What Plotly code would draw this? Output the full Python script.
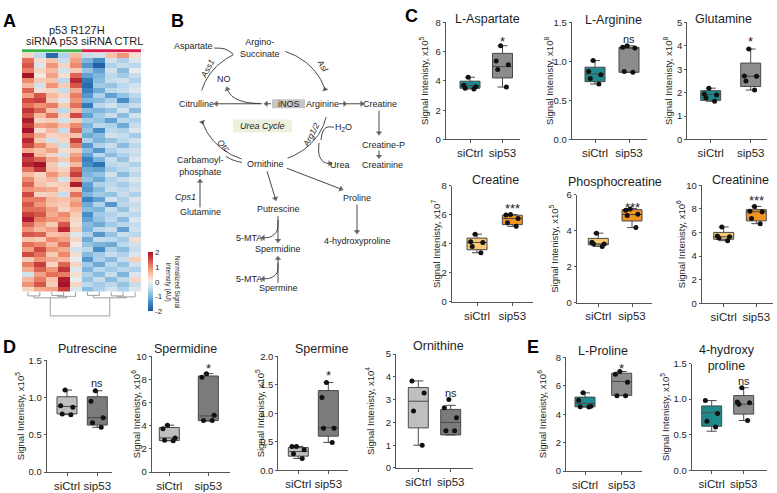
import numpy as np
import plotly.graph_objects as go

W, H = 777, 493
FONT = "Liberation Sans, Arial, Helvetica, sans-serif"
TXT = "#1e1e1e"
AXC = "#555555"
DC = "#333333"

# ---------------- Panel A: heatmap data ----------------
heat_groups = ["siRNA p53", "siRNA CTRL"]
heat_z = [
    [0.3, -0.5, -1.8, -0.6, 0.6, -0.4, -0.3, 0.5, 0.9, 0.2],
    [1.2, 0.2, 0.5, -0.4, 0.8, -1.0, -1.4, -0.3, -0.6, -0.2],
    [1.4, -0.2, 0.9, 0.3, 1.0, -1.3, -1.9, -0.6, -0.4, -0.5],
    [1.1, 0.3, 0.6, -0.3, 0.4, -0.8, -1.2, -0.3, -0.9, -0.1],
    [2.0, 0.1, 0.8, 0.2, 1.3, -1.2, -1.0, -0.5, -0.7, -0.4],
    [1.0, 0.4, 0.5, -0.5, 1.8, -1.6, -0.9, -0.4, -0.3, -0.6],
    [0.6, -0.3, 0.9, 0.4, 1.4, -1.8, -0.7, -0.8, -0.5, -0.3],
    [1.3, 0.2, 0.3, -0.4, 0.7, -1.5, -1.1, -0.5, -0.4, -0.2],
    [0.8, 1.4, 0.6, 0.3, 1.1, -1.3, -0.6, -1.2, -0.8, -0.5],
    [1.5, 1.6, 0.4, -0.2, 0.9, -1.0, -0.9, -0.6, -1.4, -0.7],
    [1.2, 0.9, 1.1, 0.4, 1.2, -1.6, -0.5, -0.3, -0.6, -0.4],
    [1.7, 1.3, 0.5, -0.5, 0.6, -0.9, -1.0, -0.8, -0.3, -0.9],
    [1.4, 0.6, 1.2, 0.3, 1.5, -1.2, -0.7, -0.4, -0.9, -0.3],
    [1.9, 0.3, 0.4, -0.3, 0.4, -0.7, -0.8, -1.2, -0.5, -0.6],
    [1.6, 0.8, 0.9, 0.5, 1.0, -1.0, -0.5, -0.6, -1.1, -0.4],
    [2.0, 0.2, 0.6, -0.4, 1.3, -0.8, -1.4, -0.5, -0.6, -0.2],
    [1.3, 0.7, 0.3, 0.4, 0.5, -1.1, -0.9, -0.3, -0.4, -0.7],
    [1.8, 0.4, -0.3, 0.3, 1.6, -0.6, -1.0, -0.8, -0.5, -0.3],
    [1.5, 1.0, 0.5, -0.4, 1.1, -1.3, -0.6, -0.4, -0.9, -0.5],
    [0.7, 0.5, 0.8, 0.2, 0.4, -0.9, -1.3, -0.6, -0.4, -0.3],
    [1.9, 0.6, 0.3, -0.3, 0.8, -1.2, -0.5, -0.9, -0.6, -0.4],
    [1.6, 1.3, 0.7, 0.4, 1.0, -1.5, -1.0, -0.4, -0.8, -0.2],
    [1.8, 2.1, 0.4, -0.2, 0.6, -1.4, -1.7, -0.5, -0.4, -0.6],
    [1.2, 1.7, 0.5, 0.3, 1.3, -1.1, -1.2, -0.7, -0.5, -0.3],
    [0.6, 0.3, 0.9, 0.5, 1.6, -1.0, -0.8, -0.3, -0.9, -0.5],
    [1.0, 0.4, 0.6, -0.3, 0.9, -0.8, -1.1, -0.6, -0.4, -0.2],
    [1.3, 0.5, 0.3, 0.4, 1.9, -1.2, -0.6, -0.5, -0.7, -0.4],
    [0.9, 0.8, 0.7, 0.3, 0.5, -1.3, -0.9, -0.4, -0.5, -0.3],
    [1.5, 0.3, 0.4, -0.4, 1.2, -1.0, -0.7, -0.8, -0.4, -0.6],
    [1.1, 1.1, 0.6, 0.5, 0.7, -1.5, -1.2, -0.3, -0.6, -0.2],
    [1.4, 0.9, 0.5, 0.4, 0.9, -1.1, -0.6, -1.3, -0.5, -0.4],
    [1.2, 1.2, 0.8, 0.3, 0.6, -0.9, -1.0, -0.4, -0.8, -0.3],
    [1.6, 1.4, 0.7, 1.0, 0.4, -1.4, -0.7, -0.6, -0.4, -0.5],
    [1.9, 1.1, 0.9, 0.8, 0.3, -1.2, -0.8, -0.5, -0.9, -0.2],
    [1.3, 0.8, 0.4, 1.4, 0.2, -0.9, -1.1, -0.7, -0.5, -0.4],
    [0.9, 0.6, 0.8, 1.8, 0.4, -1.0, -0.5, -0.4, -1.2, -0.3],
    [1.4, 1.3, 0.5, 0.6, -0.2, -0.6, -1.3, -0.8, -0.4, -0.5],
    [0.5, 0.4, 1.0, 0.8, 0.3, -1.1, -0.4, -0.5, -0.7, 0.2],
    [1.2, 1.0, 0.6, 1.2, 0.1, -0.8, -1.0, -1.1, -0.5, -0.3],
    [0.8, 1.5, 0.9, 0.7, -0.3, -0.5, -1.4, -0.6, -0.9, -0.4],
    [1.5, 1.2, 0.4, 1.0, 0.2, -0.9, -0.7, -0.4, -0.6, -0.2],
    [0.4, 0.9, 0.7, 0.6, -0.1, -1.3, -0.6, -0.9, -0.4, 0.4],
    [1.1, 1.6, 0.3, 1.3, 0.3, -0.7, -1.1, -0.5, -0.8, -0.3],
    [0.7, 1.3, 0.9, 1.7, -0.2, -1.0, -0.5, -0.7, -0.5, -0.6],
    [-0.3, 0.8, 1.2, 1.1, 0.2, -0.6, -0.9, -0.4, -1.0, -0.2],
    [0.6, 1.1, 0.5, 1.9, -0.1, -0.8, -0.4, -0.9, -0.5, 0.3],
    [0.9, 1.4, 0.4, 2.0, 0.3, -0.5, -0.7, -0.5, -0.8, -0.4],
    [0.3, 0.7, 0.8, 1.6, -0.2, -0.9, -0.6, -0.3, -0.6, -0.2],
]
colorbar_ticks = [2, 1, 0, -1, -2]

# ---------------- Panels C, D, E: box plot data ----------------
groups = ["siCtrl", "sip53"]
metabolites = ["L-Aspartate", "L-Arginine", "Glutamine", "Creatine", "Phosphocreatine",
               "Creatinine", "Putrescine", "Spermidine", "Spermine", "Ornithine",
               "L-Proline", "4-hydroxy<br>proline"]
exponents = [5, 8, 8, 7, 5, 6, 5, 6, 5, 4, 6, 5]
y_max = [8, 1.5, 5, 8, 6, 10, 1.5, 10, 2.0, 5, 8, 1.5]
y_step = [2, 0.5, 1, 2, 2, 2, 0.5, 2, 0.5, 1, 2, 0.5]
ctrl_points = [
    [4.25, 3.70, 3.60, 3.50, 3.45],
    [1.01, 0.87, 0.83, 0.78, 0.71],
    [2.19, 1.94, 1.90, 1.78, 1.63],
    [4.67, 4.15, 4.10, 3.82, 3.39],
    [3.87, 3.36, 3.27, 3.26, 3.13],
    [6.46, 5.70, 5.63, 5.52, 5.30],
    [1.10, 0.89, 0.87, 0.78, 0.77],
    [4.05, 3.75, 2.95, 2.75, 2.70],
    [0.42, 0.42, 0.36, 0.29, 0.21],
    [3.82, 3.29, 2.50, 1.00],
    [5.50, 4.98, 4.55, 4.52, 4.50],
    [0.98, 0.80, 0.69, 0.61],
]
sip53_points = [
    [6.40, 5.36, 5.10, 4.78, 3.58],
    [1.20, 1.18, 1.17, 0.87, 0.86],
    [3.86, 2.71, 2.70, 2.50, 2.11],
    [6.02, 6.00, 5.75, 5.46, 5.21],
    [5.22, 5.15, 4.92, 4.86, 4.18],
    [8.20, 7.80, 7.75, 7.18, 6.74],
    [1.09, 0.95, 0.73, 0.66, 0.60],
    [8.50, 8.20, 4.90, 4.45, 4.45],
    [1.54, 1.28, 0.74, 0.74, 0.49],
    [3.00, 2.64, 2.20, 1.63, 1.63],
    [7.00, 6.80, 6.24, 5.30, 5.30],
    [1.16, 0.96, 0.95, 0.93, 0.70],
]
# q1, median, q3, lower whisker, upper whisker
ctrl_box = [
    [3.50, 3.68, 3.98, 3.45, 4.25],
    [0.74, 0.84, 0.925, 0.71, 1.01],
    [1.67, 1.92, 2.08, 1.63, 2.19],
    [3.60, 4.10, 4.40, 3.39, 4.67],
    [3.22, 3.27, 3.58, 3.13, 3.87],
    [5.42, 5.63, 6.00, 5.30, 6.46],
    [0.78, 0.88, 1.01, 0.77, 1.10],
    [2.72, 2.95, 3.85, 2.70, 4.05],
    [0.25, 0.33, 0.40, 0.21, 0.42],
    [1.76, 2.93, 3.53, 1.00, 3.82],
    [4.52, 4.75, 5.20, 4.50, 5.50],
    [0.62, 0.81, 0.905, 0.55, 0.98],
]
sip53_box = [
    [4.20, 4.98, 5.88, 3.58, 6.40],
    [0.86, 1.17, 1.18, 0.86, 1.20],
    [2.26, 2.70, 3.26, 2.11, 3.86],
    [5.33, 5.75, 5.98, 5.21, 6.02],
    [4.55, 4.91, 5.18, 4.18, 5.25],
    [6.98, 7.75, 7.93, 6.74, 8.20],
    [0.63, 0.73, 1.01, 0.60, 1.09],
    [4.45, 4.85, 8.30, 4.40, 8.50],
    [0.60, 0.75, 1.40, 0.49, 1.54],
    [1.45, 2.00, 2.57, 1.45, 2.75],
    [5.32, 6.30, 6.88, 5.30, 7.00],
    [0.79, 0.93, 1.05, 0.70, 1.16],
]
sig_text = ["*", "ns", "*", "***", "***", "***", "ns", "*", "*", "ns", "*", "ns"]
sig_y = [6.94, 1.29, 4.31, 6.70, 5.51, 9.03, 1.20, 9.24, 1.73, 3.31, 7.45, 1.26]

# ---------------- layout of the panels (pixels) ----------------
p_left = [445.7, 571.7, 687.3, 451.7, 576.7, 701.7, 46.7, 151.7, 278.3, 396.0, 566.0, 691.7]
p_c0 = [470.0, 595.0, 710.7, 477.0, 598.3, 723.7, 67.0, 169.3, 298.3, 418.3, 585.0, 711.7]
p_c1 = [502.5, 629.0, 750.7, 512.3, 632.0, 756.3, 97.3, 208.3, 328.3, 450.7, 621.7, 743.7]
p_right = [520.0, 646.7, 766.7, 533.0, 651.7, 773.0, 111.7, 230.0, 348.3, 473.3, 641.7, 766.7]
p_top = [16.7, 16.7, 16.7, 184.0, 193.3, 183.3, 362.3, 358.3, 358.3, 356.0, 359.3, 365.7]
p_bottom = [136.5, 136.5, 136.5, 302.7, 303.3, 304.0, 476.7, 476.7, 475.0, 472.5, 475.7, 475.0]
t_x = [487, 613, 723, 495, 615, 740, 87, 185, 322, 438, 603, 727]
t_y = [13, 14, 13, 178, 180, 178, 351, 351, 351, 348, 353, 360]
yt_x = [424, 549, 668, 436, 554, 681, 20, 136, 260, 370, 542, 665]

TEAL, GRAY = "#1f8a8c", "#8c8c8c"
LORANGE, ORANGE = "#f8c873", "#f39420"
LGRAY, DGRAY = "#bfbfbf", "#7b7b7b"
ctrl_fill = [TEAL] * 3 + [LORANGE] * 3 + [LGRAY] * 4 + [TEAL] * 2
sip_fill = [GRAY] * 3 + [ORANGE] * 3 + [DGRAY] * 4 + [GRAY] * 2

fig = go.Figure()
annotations = []
shapes = []
layout_axes = {}


def canvas_line(pts, spline=False, color=DC, width=0.9, head=False):
    xs = [p[0] for p in pts]
    ys = [p[1] for p in pts]
    marker = None
    mode = "lines"
    if head:
        # pull the last point back so the triangle tip lands on the target
        ux, uy = xs[-1] - xs[-2], ys[-1] - ys[-2]
        d = max((ux ** 2 + uy ** 2) ** 0.5, 1e-6)
        xs[-1] -= 2.2 * ux / d
        ys[-1] -= 2.2 * uy / d
        mode = "lines+markers"
        marker = dict(symbol="triangle-up", size=[0] * (len(xs) - 1) + [5.5],
                      angleref="previous", color=color, line=dict(width=0))
    fig.add_trace(go.Scatter(
        x=xs, y=ys, mode=mode, marker=marker,
        line=dict(color=color, width=width, shape="spline" if spline else "linear"),
        hoverinfo="skip", showlegend=False, xaxis="x", yaxis="y"))


def arrow(tail, head, color=DC):
    canvas_line([tail, head], color=color, head=True)


def label(text, x, y, size=9, angle=0, color=TXT, xanchor="center", yanchor="middle", yshift=0):
    annotations.append(dict(
        x=x, y=y, xref="x", yref="y", text=text, showarrow=False, textangle=angle,
        font=dict(family=FONT, size=size, color=color), xanchor=xanchor,
        yanchor=yanchor, yshift=yshift))


# ---------------- panel letters ----------------
for letter, lx, ly in [("A", 9, 15.5), ("B", 177, 15), ("C", 411, 10), ("D", 9, 348.5), ("E", 533, 348.5)]:
    label("<b>%s</b>" % letter, lx, ly, size=18, color="#000")

# ---------------- Panel A ----------------
fig.add_trace(go.Heatmap(
    z=heat_z, xaxis="x2", yaxis="y2", zmin=-2, zmax=2,
    colorscale=[[0, "#1d5a9e"], [0.125, "#3a83c0"], [0.25, "#7db5dc"], [0.375, "#bcd8ec"],
                [0.5, "#f3efed"], [0.625, "#f8c3aa"], [0.75, "#ee8a6c"], [0.875, "#cf4a42"],
                [1, "#a5122a"]],
    colorbar=dict(x=148 / W, xanchor="left", y=1 - 282 / H, yanchor="middle", len=60 / H,
                  thickness=5, xpad=0, ypad=0, outlinewidth=0, tickvals=colorbar_ticks,
                  ticktext=[str(t) for t in colorbar_ticks], ticks="",
                  tickfont=dict(family=FONT, size=8, color=TXT)),
    hoverinfo="skip"))
layout_axes["xaxis2"] = dict(domain=[22 / W, 141 / W], range=[-0.5, 9.5], visible=False, fixedrange=True)
layout_axes["yaxis2"] = dict(domain=[1 - 292 / H, 1 - 48 / H], range=[len(heat_z) - 0.5, -0.5],
                             visible=False, fixedrange=True)
label("p53 R127H", 77, 25, size=11)
label(heat_groups[0], 52, 36, size=11)
label(heat_groups[1], 112, 36, size=11)
shapes.append(dict(type="rect", xref="x", yref="y", x0=22, x1=82, y0=44.3, y1=47.3,
                   fillcolor="#3cb44b", line=dict(width=0)))
shapes.append(dict(type="rect", xref="x", yref="y", x0=82, x1=141, y0=44.3, y1=47.3,
                   fillcolor="#d81e4a", line=dict(width=0)))
label("Normalized Signal<br>Intensity (AU)", 173, 282, size=6.5, angle=90)

# dendrogram (column clustering)
col_w = (141 - 22) / 10
leaf_x = [22 + col_w * (i + 0.5) for i in range(10)]
nodes = {i: (leaf_x[i], 292.5) for i in range(10)}
merges = [("a", 0, 1, 296.5), ("b", 2, 3, 296.0), ("c", "b", 4, 297.0), ("L", "a", "c", 298.5),
          ("d", 5, 6, 296.0), ("e", 7, 8, 296.5), ("f", "e", 9, 297.5), ("R", "d", "f", 298.5),
          ("root", "L", "R", 317.0)]
dx, dy = [], []
for name, p, q, h in merges:
    (px_, py_), (qx_, qy_) = nodes[p], nodes[q]
    dx += [px_, px_, qx_, qx_, None]
    dy += [py_, h, h, qy_, None]
    nodes[name] = ((px_ + qx_) / 2, h)
fig.add_trace(go.Scatter(x=dx, y=dy, mode="lines", line=dict(color="#888", width=0.8),
                         hoverinfo="skip", showlegend=False, xaxis="x", yaxis="y"))

# ---------------- Panel B: pathway diagram ----------------
cx, cy, rx, ry = 263.5, 101.5, 64.0, 58.5


def arc(t0, t1, n=40):
    t = np.radians(np.linspace(t0, t1, n))
    return list(zip(cx + rx * np.cos(t), cy - ry * np.sin(t)))


for t0, t1, head in [(70, 14, True), (-12, -68, False), (-110, -165, True), (165, 118, False)]:
    canvas_line(arc(t0, t1), head=head)

shapes.append(dict(type="rect", xref="x", yref="y", x0=272, x1=305, y0=95.5, y1=104.5,
                   fillcolor="#c6c6c6", line=dict(width=0), layer="below"))
shapes.append(dict(type="rect", xref="x", yref="y", x0=233, x1=292, y0=116, y1=129.5,
                   fillcolor="#ebf1dd", line=dict(width=0), layer="below"))

canvas_line([(214, 43), (225, 44), (233, 49)], spline=True)
canvas_line([(226, 154), (234, 158), (242, 160)], spline=True)
canvas_line([(321, 137), (323, 128), (327, 124), (334, 124)], spline=True)
canvas_line([(262, 100), (244, 98), (233, 93), (228, 87), (226.5, 83)], spline=True, head=True)
canvas_line([(319, 140), (319, 152), (323, 159), (328, 161), (332, 161)], spline=True, head=True)
canvas_line([(278, 219), (277, 230), (271, 236), (265, 237), (261, 237)], spline=True, head=True)
canvas_line([(278, 263), (277, 273), (271, 278), (265, 279), (261, 279)], spline=True, head=True)

for tail, head in [((260, 100), (214, 100)), ((271, 100), (264, 100)),
                   ((339, 100), (347, 100)), ((347, 100), (364, 100)),
                   ((379, 107), (379, 132)), ((379, 148), (379, 156)),
                   ((200, 206), (200, 177)), ((267, 169), (276, 199)),
                   ((287, 166), (343, 188)), ((357, 203), (357, 233)),
                   ((278, 215), (278, 242)), ((278, 283), (278, 256))]:
    arrow(tail, head)

diagram_labels = [
    ("Aspartate", 193, 41), ("Argino-<br>Succinate", 260, 43), ("NO", 224, 75),
    ("Citrulline", 196, 100), ("iNOS", 288.5, 100), ("Arginine", 322, 100),
    ("Creatine", 380, 100), ("<i>Urea Cycle</i>", 262, 122.5), ("H<sub>2</sub>O", 343, 124),
    ("Creatine-P", 383, 142), ("Urea", 340, 163), ("Creatinine", 382, 163),
    ("Carbamoyl-<br>phosphate", 200, 164), ("Ornithine", 265, 162), ("<i>Cps1</i>", 185, 195),
    ("Glutamine", 200, 211), ("Putrescine", 278, 208), ("Proline", 357, 196),
    ("4-hydroxyproline", 357, 240), ("5-MTA", 249, 237), ("Spermidine", 278, 249),
    ("5-MTA", 249, 279), ("Spermine", 278, 288),
]
for text, x, y in diagram_labels:
    label(text, x, y, size=9)
for text, x, y, ang in [("<i>Ass1</i>", 207, 64, -62), ("<i>Asl</i>", 323, 61, 58),
                        ("<i>Arg1/2</i>", 311, 132, -62), ("<i>Otc</i>", 224, 143, 45)]:
    label(text, x, y, size=8.5, angle=ang)

# ---------------- Panels C, D, E: box plots ----------------
for i in range(len(metabolites)):
    n = i + 3
    xa, ya = "x%d" % n, "y%d" % n
    unit = p_c1[i] - p_c0[i]
    xmin = -(p_c0[i] - p_left[i]) / unit
    xmax = 1 + (p_right[i] - p_c1[i]) / unit
    bw = 20.0 / unit
    for g, (box, pts, fill) in enumerate([(ctrl_box[i], ctrl_points[i], ctrl_fill[i]),
                                          (sip53_box[i], sip53_points[i], sip_fill[i])]):
        fig.add_trace(go.Box(
            x=[g], q1=[box[0]], median=[box[1]], q3=[box[2]], lowerfence=[box[3]],
            upperfence=[box[4]], orientation="v", width=bw, fillcolor=fill,
            line=dict(color="#4a4a4a", width=1), whiskerwidth=0.5, boxpoints=False,
            xaxis=xa, yaxis=ya, showlegend=False, hoverinfo="skip"))
        fig.add_trace(go.Box(
            y=pts, x0=g, orientation="v", width=bw, boxpoints="all", jitter=0.75,
            pointpos=0, marker=dict(color="#111111", size=5),
            line=dict(color="rgba(0,0,0,0)", width=0), fillcolor="rgba(0,0,0,0)",
            xaxis=xa, yaxis=ya, showlegend=False, hoverinfo="skip"))
    fmt = ".1f" if y_step[i] < 1 else "d"
    layout_axes["xaxis%d" % n] = dict(
        domain=[p_left[i] / W, p_right[i] / W], range=[xmin, xmax], anchor=ya,
        tickvals=[0, 1], ticktext=groups, tickangle=0, showline=True, linecolor=AXC,
        linewidth=1, ticks="outside", ticklen=3, tickwidth=1, tickcolor=AXC, showgrid=False,
        zeroline=False, fixedrange=True, tickfont=dict(family=FONT, size=11.5, color=TXT))
    layout_axes["yaxis%d" % n] = dict(
        domain=[1 - p_bottom[i] / H, 1 - p_top[i] / H], range=[0, y_max[i]], anchor=xa,
        tick0=0, dtick=y_step[i], tickformat=fmt, showline=True, linecolor=AXC,
        linewidth=1, ticks="outside", ticklen=2, tickwidth=1, tickcolor=AXC,
        showgrid=False, zeroline=False, fixedrange=True,
        tickfont=dict(family=FONT, size=9.5, color=TXT))
    label(metabolites[i], t_x[i], t_y[i], size=12.5)
    label("Signal Intenisty, x10<sup>%d</sup>" % exponents[i], yt_x[i],
          (p_top[i] + p_bottom[i]) / 2, size=9.5, angle=-90)
    star = "*" in sig_text[i]
    annotations.append(dict(
        x=1, y=sig_y[i], xref=xa, yref=ya, text=sig_text[i], showarrow=False,
        font=dict(family=FONT, size=13 if star else 11, color=TXT),
        xanchor="center", yanchor="middle", yshift=-3.5 if star else 0))

fig.update_layout(
    width=W, height=H, margin=dict(l=0, r=0, t=0, b=0),
    paper_bgcolor="white", plot_bgcolor="rgba(0,0,0,0)",
    font=dict(family=FONT, color=TXT), showlegend=False, boxmode="overlay",
    xaxis=dict(domain=[0, 1], range=[0, W], visible=False, fixedrange=True),
    yaxis=dict(domain=[0, 1], range=[H, 0], visible=False, fixedrange=True),
    annotations=annotations, shapes=shapes, **layout_axes)

fig.write_html("out.html", config={"displayModeBar": False},
               post_script="document.body.style.margin='0';document.body.style.overflow='hidden';")
